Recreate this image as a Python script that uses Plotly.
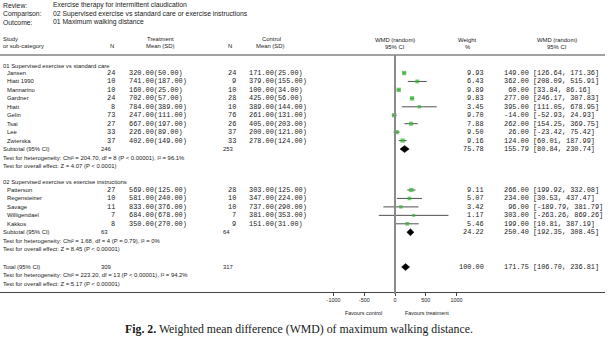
import plotly.graph_objects as go

# ---------------- data ----------------
review_labels = ["Review:", "Comparison:", "Outcome:"]
review_values = ["Exercise therapy for intermittent claudication",
                 "02 Supervised exercise vs standard care or exercise instructions",
                 "01 Maximum walking distance"]

group_titles = ["01 Supervised exercise vs standard care",
                "02 Supervised exercise vs exercise instructions"]

g1_study = ["Jansen", "Hiatt 1990", "Mannarino", "Gardner", "Hiatt", "Gelin", "Tsai", "Lee", "Zwierska"]
g1_tn = [24, 10, 10, 24, 8, 73, 27, 33, 37]
g1_tmean = [320.00, 741.00, 160.00, 702.00, 784.00, 247.00, 667.00, 226.00, 402.00]
g1_tsd = [50.00, 187.00, 25.00, 57.00, 389.00, 111.00, 197.00, 89.00, 149.00]
g1_cn = [24, 9, 10, 28, 10, 76, 26, 37, 33]
g1_cmean = [171.00, 379.00, 100.00, 425.00, 389.00, 261.00, 405.00, 200.00, 278.00]
g1_csd = [25.00, 155.00, 34.00, 56.00, 144.00, 131.00, 203.00, 121.00, 124.00]
g1_weight = [9.93, 6.43, 9.89, 9.83, 3.45, 9.70, 7.88, 9.50, 9.16]
g1_est = [149.00, 362.00, 60.00, 277.00, 395.00, -14.00, 262.00, 26.00, 124.00]
g1_lo = [126.64, 208.09, 33.84, 246.17, 111.05, -52.93, 154.25, -23.42, 60.01]
g1_hi = [171.36, 515.91, 86.16, 307.83, 678.95, 24.93, 369.75, 75.42, 187.99]

g2_study = ["Patterson", "Regensteiner", "Savage", "Willigendael", "Kakkos"]
g2_tn = [27, 10, 11, 7, 8]
g2_tmean = [569.00, 581.00, 833.00, 684.00, 350.00]
g2_tsd = [125.00, 240.00, 376.00, 678.00, 270.00]
g2_cn = [28, 10, 10, 7, 9]
g2_cmean = [303.00, 347.00, 737.00, 381.00, 151.00]
g2_csd = [125.00, 224.00, 290.00, 353.00, 31.00]
g2_weight = [9.11, 5.07, 3.42, 1.17, 5.46]
g2_est = [266.00, 234.00, 96.00, 303.00, 199.00]
g2_lo = [199.92, 30.53, -189.79, -263.26, 10.81]
g2_hi = [332.08, 437.47, 381.79, 869.26, 387.19]

pooled_label = ["Subtotal (95% CI)", "Subtotal (95% CI)", "Total (95% CI)"]
pooled_tn = [246, 63, 309]
pooled_cn = [253, 64, 317]
pooled_weight = [75.78, 24.22, 100.00]
pooled_est = [155.79, 250.40, 171.75]
pooled_lo = [80.84, 192.35, 106.70]
pooled_hi = [230.74, 308.45, 236.81]
pooled_het = ["Test for heterogeneity: Chi² = 204.70, df = 8 (P < 0.00001), I² = 96.1%",
              "Test for heterogeneity: Chi² = 1.68, df = 4 (P = 0.79), I² = 0%",
              "Test for heterogeneity: Chi² = 223.20, df = 13 (P < 0.00001), I² = 94.2%"]
pooled_eff = ["Test for overall effect: Z = 4.07 (P < 0.0001)",
              "Test for overall effect: Z = 8.45 (P < 0.00001)",
              "Test for overall effect: Z = 5.17 (P < 0.00001)"]

tick_vals = [-1000, -500, 0, 500, 1000]
tick_text = ["-1000", "-500", "0", "500", "1000"]
favours = ["Favours control", "Favours treatment"]
caption_bold = "Fig. 2."
caption_rest = "Weighted mean difference (WMD) of maximum walking distance."

# ---------------- layout helpers ----------------
W, H = 612, 359
SANS = "Liberation Sans, Arial, sans-serif"
MONO = "Liberation Mono, Courier New, monospace"
TXT = "#222222"
fs_sans = 5.9
fs_het = 5.9
fs_title = 6.8
fs_mono = 6.9

step = 8.45
g1_y = [73 + step * i for i in range(len(g1_study))]
g2_y = [190 + step * i for i in range(len(g2_study))]
pooled_y = [73 + step * 9, 190 + step * 5, 267.0]
head_y = [65.5, 181.5]
axis_y = 292.0
top_line_y = 55.0

ann = []


def px(x):
    return x / W


def text(x, y, s, anchor="left", mono=False, size=None, color=TXT, family=None):
    ann.append(dict(x=px(x), y=y, xref="paper", yref="y", text=s, showarrow=False,
                    xanchor=anchor, yanchor="middle", borderpad=0,
                    font=dict(family=family or (MONO if mono else SANS),
                              size=size or (fs_mono if mono else fs_sans), color=color)))


NB = "\u00a0"


def ci_str(e, l, h):
    es = f"{e:.2f}".rjust(6).replace(" ", NB)
    return f"{es}{NB}[{l:.2f},{NB}{h:.2f}]"


# header block
for i, (lab, val) in enumerate(zip(review_labels, review_values)):
    yy = 5 + 8.5 * i
    text(2, yy, lab, size=fs_title)
    text(52, yy, val, size=fs_title)

text(2, 38.5, "Study")
text(2, 46.2, "or sub-category")
text(112, 46.2, "N", "center")
text(160, 38.5, "Treatment", "center")
text(160, 46.2, "Mean (SD)", "center")
text(230, 46.2, "N", "center")
text(271, 38.5, "Control", "center")
text(270, 46.2, "Mean (SD)", "center")
text(395, 39.5, "WMD (random)", "center")
text(395, 47.0, "95% CI", "center")
text(468, 39.5, "Weight", "center")
text(468, 47.0, "%", "center")
text(557, 39.5, "WMD (random)", "center")
text(557, 47.0, "95% CI", "center")

# study rows
groups = [
    (g1_study, g1_tn, g1_tmean, g1_tsd, g1_cn, g1_cmean, g1_csd, g1_weight, g1_est, g1_lo, g1_hi, g1_y),
    (g2_study, g2_tn, g2_tmean, g2_tsd, g2_cn, g2_cmean, g2_csd, g2_weight, g2_est, g2_lo, g2_hi, g2_y),
]

all_est, all_y, all_w = [], [], []
ci_x, ci_y = [], []
for gi, (st, tn, tm, tsd, cn, cm, csd, wt, est, lo, hi, ys) in enumerate(groups):
    text(2, head_y[gi], group_titles[gi])
    for i in range(len(st)):
        y = ys[i]
        text(6, y, st[i])
        text(116, y, str(tn[i]), "right", mono=True)
        text(128, y, f"{tm[i]:.2f}({tsd[i]:.2f})", mono=True)
        text(237, y, str(cn[i]), "right", mono=True)
        text(248, y, f"{cm[i]:.2f}({csd[i]:.2f})", mono=True)
        text(485, y, f"{wt[i]:.2f}", "right", mono=True)
        text(503, y, ci_str(est[i], lo[i], hi[i]), mono=True)
        ci_x += [lo[i], hi[i], None]
        ci_y += [y, y, None]
        all_est.append(est[i])
        all_y.append(y)
        all_w.append(wt[i])

for k in range(3):
    y = pooled_y[k]
    text(2, y, pooled_label[k])
    text(100, y, str(pooled_tn[k]))
    text(222, y, str(pooled_cn[k]))
    text(485, y, f"{pooled_weight[k]:.2f}", "right", mono=True)
    text(503, y, ci_str(pooled_est[k], pooled_lo[k], pooled_hi[k]), mono=True)
    text(2, y + step, pooled_het[k], size=fs_het)
    text(2, y + 2 * step, pooled_eff[k])

# favours and caption
text(383, 312.5, favours[0], "right", size=5.4)
text(404, 312.5, favours[1], "left", size=5.4)
ann.append(dict(x=px(299), y=328.5, xref="paper", yref="y", showarrow=False,
                xanchor="center", yanchor="middle",
                text=f"<b>{caption_bold}</b> {caption_rest}",
                font=dict(family="Liberation Serif, Times New Roman, serif", size=11.8, color="#1a1a1a")))

fig = go.Figure()

# CI lines
fig.add_trace(go.Scatter(x=ci_x, y=ci_y, mode="lines", line=dict(color="#505050", width=1),
                         hoverinfo="skip", showlegend=False))
# study squares
fig.add_trace(go.Scatter(x=all_est, y=all_y, mode="markers",
                         marker=dict(symbol="square", color="#2fb52f",
                                     size=[2.8 + 0.16 * w for w in all_w], line=dict(width=0)),
                         showlegend=False))
# pooled diamonds
dh = 3.5
for k in range(3):
    y = pooled_y[k]
    fig.add_trace(go.Scatter(x=[pooled_lo[k], pooled_est[k], pooled_hi[k], pooled_est[k], pooled_lo[k]],
                             y=[y, y - dh, y, y + dh, y], mode="lines", fill="toself",
                             fillcolor="#000000", line=dict(color="#000000", width=0.5),
                             showlegend=False))

scale = 0.0615  # px per unit
x_left = -395 / scale
x_right = (605 - 395) / scale

shapes = [
    dict(type="line", xref="paper", yref="y", x0=0, x1=605 / W, y0=top_line_y, y1=top_line_y,
         line=dict(color="#444444", width=1)),
    dict(type="line", xref="x", yref="y", x0=0, x1=0, y0=top_line_y, y1=axis_y + 2,
         line=dict(color="#8a8a8a", width=2)),
]

fig.update_layout(
    width=W, height=H, margin=dict(l=0, r=0, t=0, b=0),
    paper_bgcolor="white", plot_bgcolor="white",
    showlegend=False, annotations=ann, shapes=shapes,
    xaxis=dict(domain=[0, 605 / W], range=[x_left, x_right], anchor="free",
               position=1 - axis_y / H, showline=True, linecolor="#444444", linewidth=1,
               ticks="outside", ticklen=3, tickcolor="#444444", tickwidth=1,
               tickvals=tick_vals, ticktext=tick_text, showgrid=False, zeroline=False,
               tickfont=dict(family=SANS, size=5.4, color=TXT)),
    yaxis=dict(domain=[0, 1], range=[H, 0], visible=False, showgrid=False, zeroline=False),
)

fig.write_html("out.html", config={"displayModeBar": False},
               post_script="document.body.style.margin='0px';")
